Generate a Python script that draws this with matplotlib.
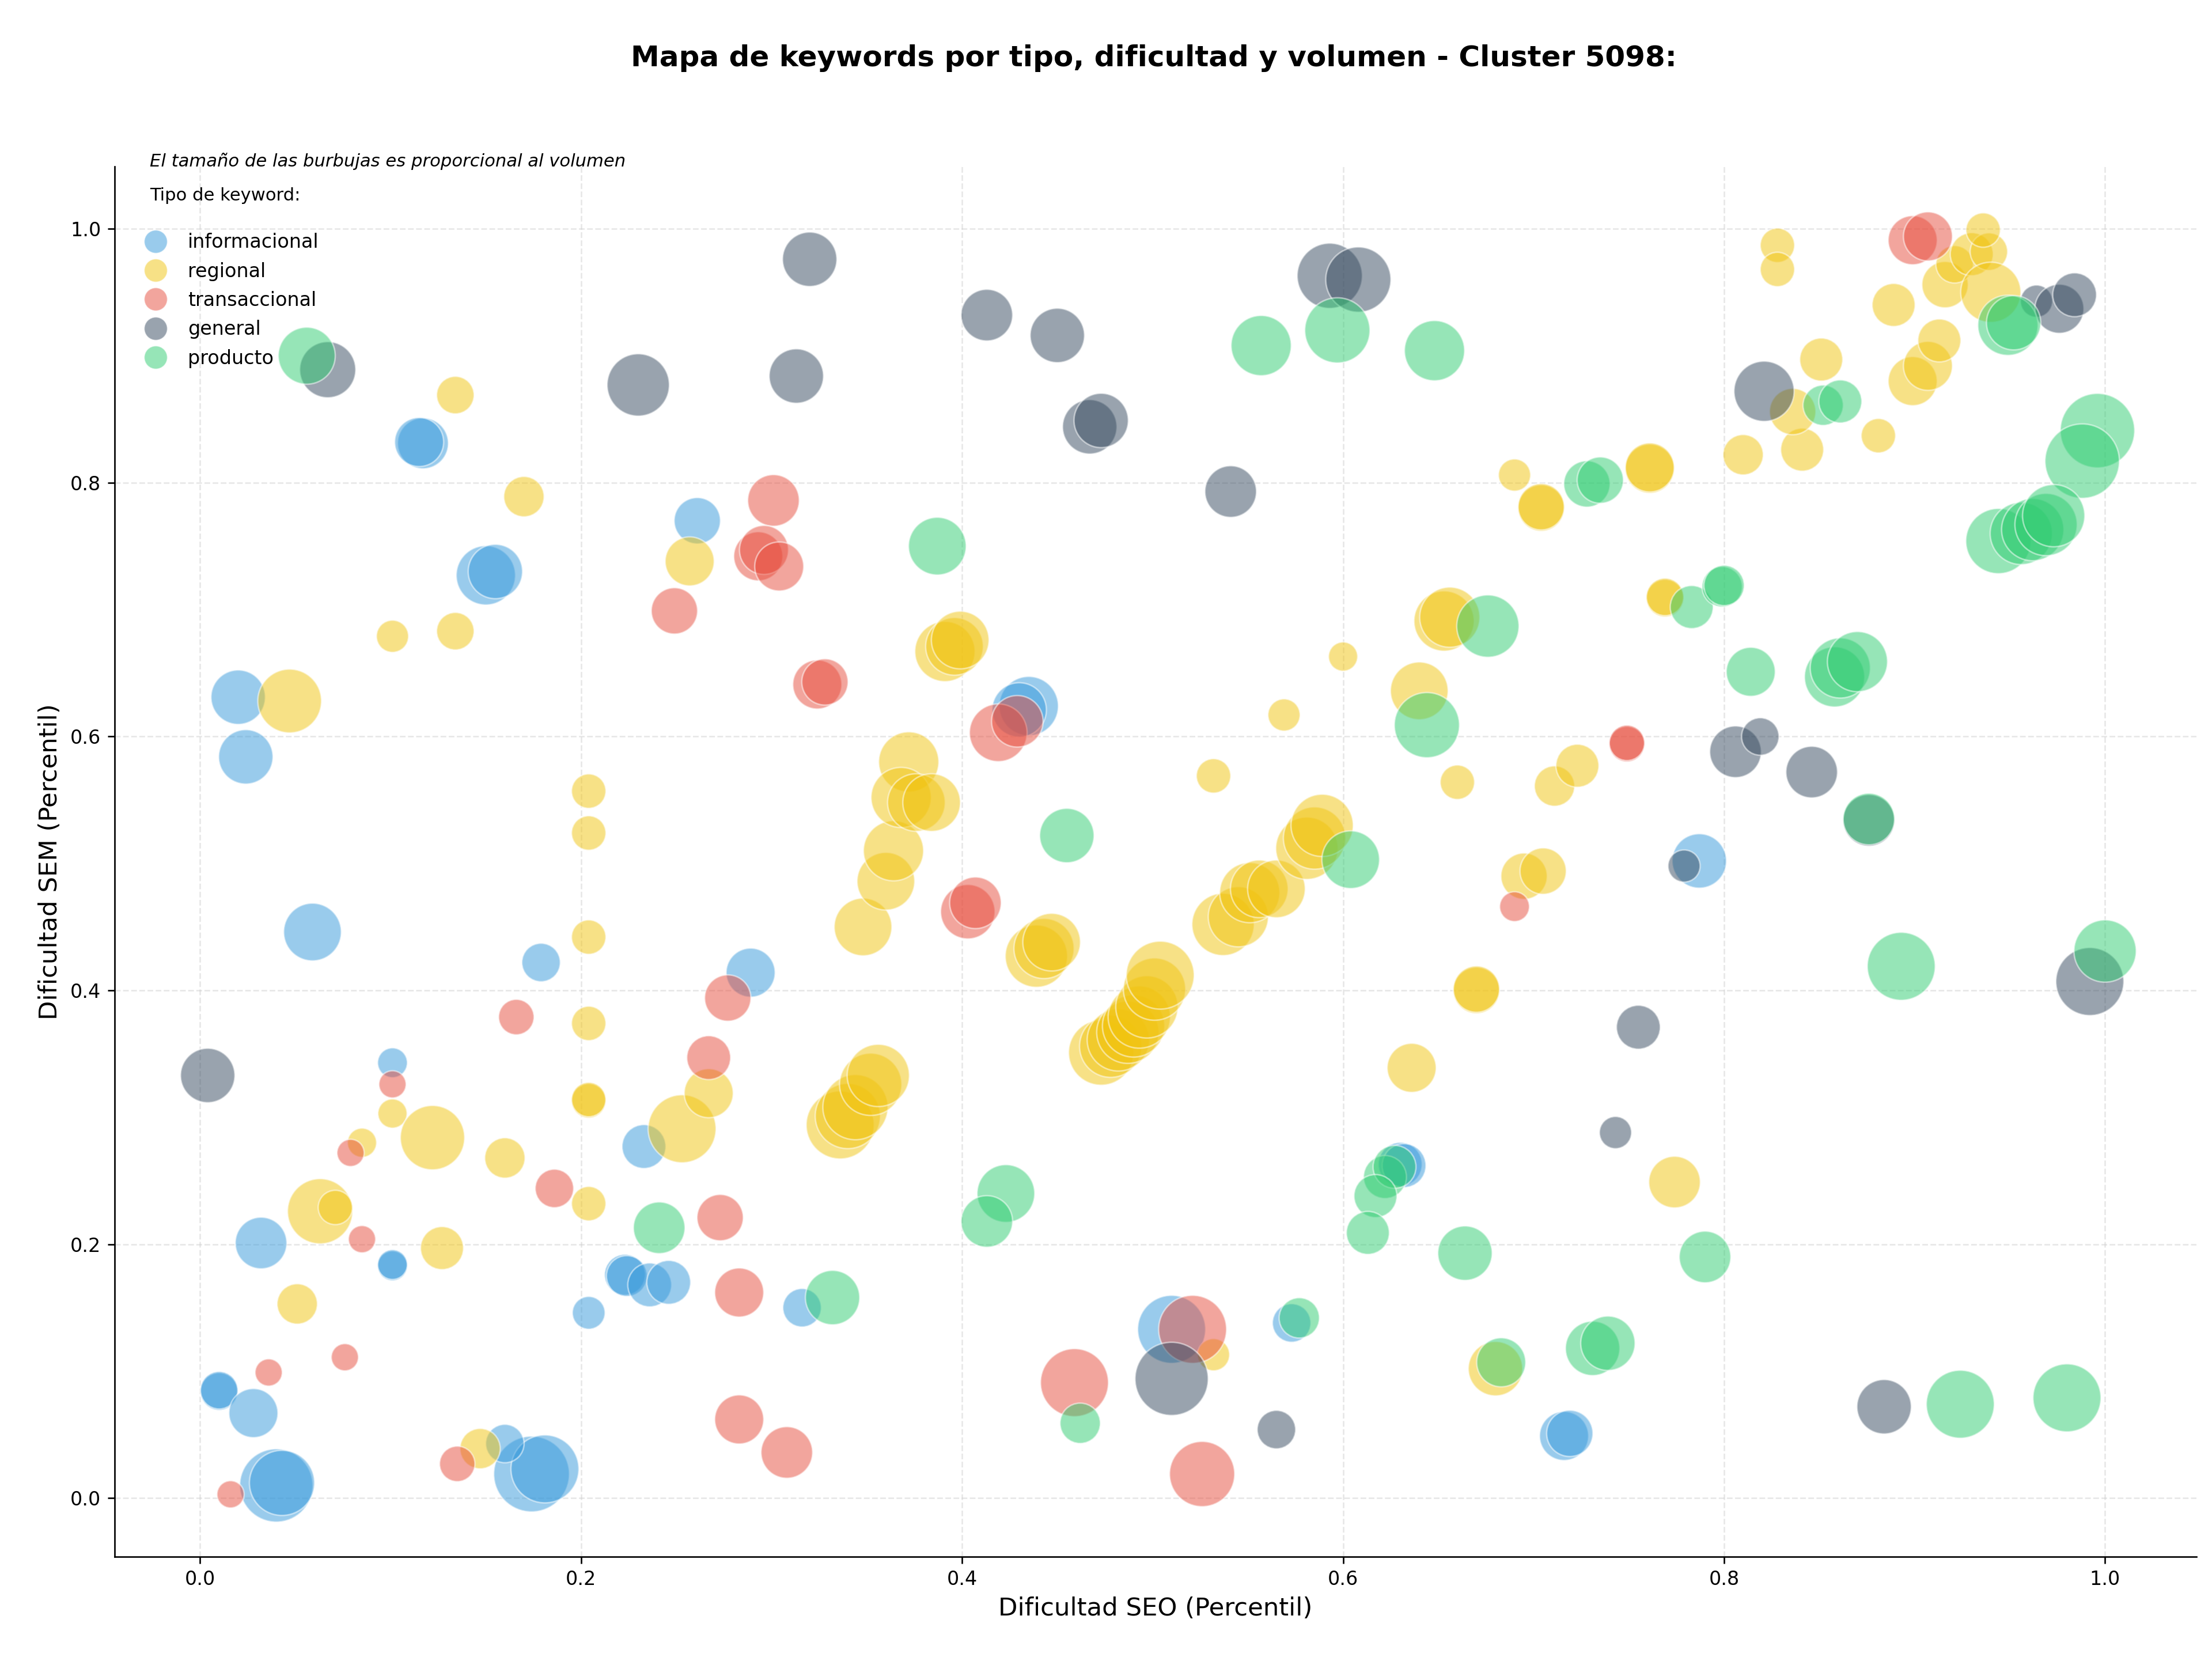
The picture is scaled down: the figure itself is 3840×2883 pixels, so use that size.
import matplotlib
matplotlib.use("Agg")
import matplotlib.pyplot as plt
from matplotlib.lines import Line2D

tipos = ["informacional", "regional", "transaccional", "general", "producto"]
colores = {"informacional": "#3498db", "regional": "#f1c40f", "transaccional": "#e74c3c",
           "general": "#34495e", "producto": "#2ecc71"}

# --- informacional ---
inf_seo = [0.020, 0.024, 0.059, 0.117, 0.115, 0.150, 0.155, 0.261, 0.289, 0.179, 0.101, 0.101, 0.101,
           0.032, 0.010, 0.010, 0.028, 0.040, 0.043, 0.174, 0.181, 0.160, 0.204, 0.233, 0.223, 0.224,
           0.236, 0.246, 0.316, 0.435, 0.430, 0.787, 0.630, 0.632, 0.510, 0.716, 0.719, 0.573]
inf_sem = [0.631, 0.584, 0.446, 0.831, 0.832, 0.727, 0.730, 0.770, 0.414, 0.422, 0.343, 0.183, 0.184,
           0.201, 0.084, 0.085, 0.067, 0.010, 0.012, 0.019, 0.023, 0.043, 0.146, 0.277, 0.176, 0.175,
           0.168, 0.170, 0.150, 0.624, 0.621, 0.502, 0.263, 0.262, 0.133, 0.049, 0.051, 0.138]
inf_vol = [800, 800, 900, 700, 650, 950, 800, 580, 650, 400, 240, 240, 240,
           720, 380, 380, 650, 1450, 1150, 1550, 1250, 400, 290, 520, 450, 450,
           520, 520, 400, 950, 800, 800, 520, 520, 1250, 650, 580, 400]

# --- regional ---
reg_seo = [0.134, 0.170, 0.101, 0.134, 0.047, 0.257, 0.204, 0.204, 0.204, 0.204, 0.204, 0.204, 0.204,
           0.101, 0.085, 0.122, 0.160, 0.063, 0.071, 0.127, 0.051, 0.147, 0.253, 0.267, 0.348,
           0.336, 0.340, 0.344, 0.352, 0.356, 0.360, 0.364, 0.372, 0.368, 0.376, 0.384,
           0.391, 0.396, 0.399, 0.439, 0.443, 0.447,
           0.473, 0.478, 0.482, 0.487, 0.490, 0.493, 0.497, 0.501, 0.504,
           0.532, 0.532, 0.537, 0.545, 0.551, 0.556, 0.565, 0.581, 0.585, 0.589,
           0.569, 0.600, 0.640, 0.653, 0.656, 0.660, 0.670, 0.670, 0.636, 0.690, 0.704, 0.704,
           0.711, 0.723, 0.695, 0.705, 0.761, 0.761, 0.769, 0.769, 0.774, 0.680,
           0.810, 0.828, 0.828, 0.841, 0.836, 0.851, 0.881, 0.889, 0.899, 0.907, 0.913, 0.916,
           0.921, 0.930, 0.939, 0.936, 0.940]
reg_sem = [0.869, 0.789, 0.679, 0.683, 0.628, 0.738, 0.557, 0.524, 0.442, 0.374, 0.313, 0.314, 0.232,
           0.303, 0.280, 0.284, 0.268, 0.226, 0.229, 0.197, 0.153, 0.039, 0.291, 0.319, 0.450,
           0.294, 0.301, 0.308, 0.326, 0.333, 0.486, 0.510, 0.580, 0.552, 0.548, 0.548,
           0.667, 0.671, 0.676, 0.427, 0.433, 0.438,
           0.351, 0.356, 0.361, 0.367, 0.372, 0.379, 0.387, 0.401, 0.412,
           0.113, 0.569, 0.452, 0.458, 0.477, 0.480, 0.480, 0.512, 0.520, 0.530,
           0.617, 0.663, 0.636, 0.691, 0.694, 0.564, 0.400, 0.401, 0.339, 0.806, 0.780, 0.781,
           0.561, 0.577, 0.490, 0.494, 0.811, 0.812, 0.709, 0.710, 0.249, 0.102,
           0.822, 0.987, 0.968, 0.826, 0.856, 0.897, 0.837, 0.940, 0.880, 0.892, 0.912, 0.956,
           0.972, 0.980, 0.982, 0.999, 0.950]
reg_vol = [380, 440, 280, 380, 1100, 650, 320, 320, 320, 320, 320, 320, 320,
           230, 230, 1120, 440, 1150, 320, 500, 440, 440, 1250, 650, 900,
           1250, 1150, 1150, 1050, 1050, 900, 980, 980, 980, 900, 900,
           980, 900, 900, 1050, 980, 900,
           1150, 1050, 1050, 1050, 1050, 1050, 1050, 1050, 1250,
           280, 320, 1050, 980, 980, 900, 900, 1050, 1050, 1050,
           280, 230, 900, 980, 980, 320, 580, 580, 650, 280, 580, 580,
           440, 500, 580, 580, 650, 650, 380, 380, 720, 800,
           440, 320, 320, 500, 580, 500, 320, 500, 650, 650, 500, 580,
           380, 500, 380, 320, 980]

# --- transaccional ---
tra_seo = [0.301, 0.249, 0.293, 0.296, 0.304, 0.324, 0.328, 0.419, 0.429, 0.403, 0.407, 0.277, 0.267,
           0.166, 0.101, 0.079, 0.085, 0.076, 0.036, 0.016, 0.135, 0.186, 0.273, 0.283, 0.283, 0.308,
           0.459, 0.526, 0.521, 0.690, 0.749, 0.749, 0.899, 0.907]
tra_sem = [0.786, 0.699, 0.742, 0.747, 0.734, 0.641, 0.643, 0.603, 0.612, 0.462, 0.469, 0.394, 0.347,
           0.379, 0.326, 0.272, 0.204, 0.111, 0.099, 0.003, 0.027, 0.244, 0.221, 0.162, 0.062, 0.036,
           0.091, 0.019, 0.133, 0.466, 0.594, 0.595, 0.991, 0.994]
tra_vol = [720, 580, 650, 650, 650, 650, 580, 900, 720, 800, 720, 580, 520,
           340, 200, 200, 200, 200, 200, 200, 340, 400, 580, 650, 650, 720,
           1250, 1150, 1250, 240, 340, 340, 650, 650]

# --- general ---
gen_seo = [0.004, 0.067, 0.230, 0.320, 0.313, 0.413, 0.450, 0.467, 0.473, 0.541, 0.593, 0.608,
           0.821, 0.806, 0.819, 0.846, 0.876, 0.779, 0.755, 0.743, 0.565, 0.510, 0.884, 0.992,
           0.964, 0.976, 0.984]
gen_sem = [0.333, 0.889, 0.877, 0.976, 0.884, 0.932, 0.916, 0.844, 0.849, 0.793, 0.963, 0.960,
           0.872, 0.588, 0.600, 0.572, 0.534, 0.498, 0.371, 0.288, 0.054, 0.094, 0.072, 0.407,
           0.943, 0.937, 0.948]
gen_vol = [800, 850, 1050, 800, 800, 720, 800, 800, 800, 720, 1150, 1150,
           980, 720, 380, 720, 720, 280, 520, 280, 400, 1450, 800, 1250,
           280, 650, 520]

# --- producto ---
pro_seo = [0.056, 0.387, 0.557, 0.597, 0.648, 0.728, 0.735, 0.676, 0.644, 0.604, 0.455, 0.783,
           0.799, 0.800, 0.814, 0.858, 0.861, 0.870, 0.852, 0.861, 0.949, 0.952, 0.996, 0.988,
           0.944, 0.956, 0.962, 0.969, 0.973, 1.000, 0.893, 0.423, 0.413, 0.241, 0.332, 0.462,
           0.577, 0.622, 0.627, 0.617, 0.613, 0.664, 0.683, 0.731, 0.739, 0.790, 0.924, 0.980, 0.876]
pro_sem = [0.900, 0.750, 0.908, 0.920, 0.904, 0.799, 0.802, 0.687, 0.609, 0.503, 0.522, 0.702,
           0.718, 0.719, 0.651, 0.647, 0.654, 0.659, 0.861, 0.864, 0.924, 0.926, 0.841, 0.817,
           0.754, 0.760, 0.763, 0.767, 0.774, 0.431, 0.419, 0.240, 0.218, 0.213, 0.158, 0.059,
           0.142, 0.253, 0.261, 0.238, 0.209, 0.193, 0.107, 0.118, 0.122, 0.190, 0.074, 0.079, 0.535]
pro_vol = [880, 900, 980, 1150, 980, 580, 580, 1050, 1150, 900, 800, 500,
           440, 440, 650, 980, 980, 980, 440, 500, 980, 800, 1500, 1500,
           1150, 1050, 1050, 1050, 1050, 1050, 1250, 900, 720, 720, 800, 440,
           440, 500, 500, 500, 500, 800, 650, 800, 800, 720, 1250, 1250, 720]

datos = {
    "informacional": (inf_seo, inf_sem, inf_vol),
    "regional": (reg_seo, reg_sem, reg_vol),
    "transaccional": (tra_seo, tra_sem, tra_vol),
    "general": (gen_seo, gen_sem, gen_vol),
    "producto": (pro_seo, pro_sem, pro_vol),
}

fig = plt.figure(figsize=(16, 12.0125), dpi=240)
ax = fig.add_axes([0.0517, 0.0629, 0.9413, 0.8368])

for t in tipos:
    xs, ys, vs = datos[t]
    ax.scatter(xs, ys, s=vs, c=colores[t], alpha=0.5, edgecolors="white", linewidths=0.8, zorder=3)

ax.set_xlim(-0.045, 1.048)
ax.set_ylim(-0.046, 1.049)
ax.grid(True, linestyle="--", alpha=0.5, color="#d0d0d0", linewidth=0.8)
ax.set_axisbelow(True)
ax.spines["top"].set_visible(False)
ax.spines["right"].set_visible(False)
ax.set_xlabel("Dificultad SEO (Percentil)", fontsize=13)
ax.set_ylabel("Dificultad SEM (Percentil)", fontsize=13)
ax.tick_params(labelsize=10)

fig.text(0.5215, 0.965, "Mapa de keywords por tipo, dificultad y volumen - Cluster 5098:",
         ha="center", va="center", fontsize=15, fontweight="bold")

ax.text(0.017, 1.004, "El tamaño de las burbujas es proporcional al volumen", transform=ax.transAxes,
        fontsize=9.2, style="italic", ha="left", va="center")
ax.text(0.017, 0.979, "Tipo de keyword:", transform=ax.transAxes, fontsize=9.2, ha="left", va="center")

handles = [Line2D([0], [0], marker="o", linestyle="none", markersize=12, markerfacecolor=colores[t],
                  markeredgecolor="white", markeredgewidth=0.5, alpha=0.5, label=t) for t in tipos]
ax.legend(handles=handles, loc="upper left", bbox_to_anchor=(0.004, 0.962), frameon=False, fontsize=10,
          handletextpad=0.7, labelspacing=0.52, borderaxespad=0.3)

fig.savefig("out.png", dpi=240)
